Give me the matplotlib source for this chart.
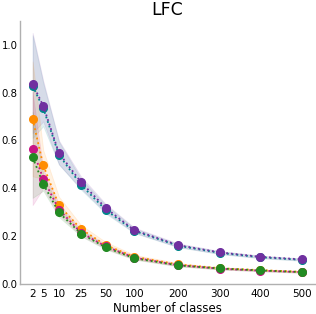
import numpy as np
import matplotlib
matplotlib.use("Agg")
import matplotlib.pyplot as plt

# ---- data ----
classes = [2, 5, 10, 25, 50, 100, 200, 300, 400, 500]
tick_labels = ["2", "5", "10", "25", "50", "100", "200", "300", "400", "500"]

teal_mean = [0.828, 0.735, 0.540, 0.415, 0.310, 0.222, 0.160, 0.130, 0.112, 0.101]
teal_lo = [0.61, 0.66, 0.50, 0.395, 0.295, 0.213, 0.154, 0.125, 0.108, 0.097]
teal_hi = [1.04, 0.84, 0.595, 0.44, 0.33, 0.233, 0.167, 0.136, 0.117, 0.105]

purple_mean = [0.836, 0.745, 0.547, 0.426, 0.318, 0.225, 0.1625, 0.132, 0.114, 0.103]
purple_lo = [0.63, 0.68, 0.50, 0.40, 0.30, 0.215, 0.155, 0.126, 0.109, 0.099]
purple_hi = [1.05, 0.85, 0.60, 0.45, 0.335, 0.236, 0.170, 0.138, 0.119, 0.107]

orange_mean = [0.690, 0.496, 0.329, 0.230, 0.1625, 0.114, 0.082, 0.066, 0.058, 0.051]
orange_lo = [0.45, 0.44, 0.30, 0.215, 0.150, 0.105, 0.076, 0.062, 0.055, 0.048]
orange_hi = [0.93, 0.56, 0.365, 0.247, 0.176, 0.122, 0.088, 0.070, 0.061, 0.054]

magenta_mean = [0.5625, 0.440, 0.311, 0.215, 0.157, 0.110, 0.079, 0.064, 0.056, 0.050]
magenta_lo = [0.33, 0.40, 0.29, 0.203, 0.148, 0.104, 0.075, 0.061, 0.053, 0.047]
magenta_hi = [0.80, 0.48, 0.335, 0.228, 0.166, 0.117, 0.084, 0.068, 0.059, 0.053]

green_mean = [0.530, 0.418, 0.299, 0.211, 0.153, 0.108, 0.078, 0.065, 0.057, 0.050]
green_lo = [0.36, 0.39, 0.28, 0.200, 0.145, 0.102, 0.074, 0.061, 0.054, 0.047]
green_hi = [0.72, 0.46, 0.32, 0.223, 0.162, 0.114, 0.082, 0.069, 0.060, 0.053]

series = [
    (teal_mean, teal_lo, teal_hi, "#00868b"),
    (purple_mean, purple_lo, purple_hi, "#7030a0"),
    (orange_mean, orange_lo, orange_hi, "#ff8c00"),
    (magenta_mean, magenta_lo, magenta_hi, "#c71585"),
    (green_mean, green_lo, green_hi, "#228b22"),
]

# ---- custom x scale (compressed at small class counts) ----
scale_x = [-2, 2, 5, 10, 25, 50, 100, 200, 300, 400, 500, 600]
scale_u = [18.6, 32.7, 43.3, 59, 81, 105.7, 134.3, 178, 220, 260, 301.7, 343.4]

def fwd(x):
    return np.interp(x, scale_x, scale_u)

def inv(u):
    return np.interp(u, scale_u, scale_x)

fig = plt.figure(figsize=(3.16, 3.14), dpi=100)
ax = fig.add_axes([0.062, 0.0955, 0.935, 0.838])
ax.set_xscale("function", functions=(fwd, inv))

for mean, lo, hi, col in series:
    ax.fill_between(classes, lo, hi, color=col, alpha=0.11, linewidth=0.6)
for mean, lo, hi, col in series:
    ax.plot(classes, mean, linestyle=":", color=col, linewidth=1.3,
            marker="o", markersize=5.5)

ax.set_xlim(-1.7, 532)
ax.set_ylim(0, 1.1)
ax.set_xticks(classes)
ax.set_xticklabels(tick_labels)
ax.set_yticks([0.0, 0.2, 0.4, 0.6, 0.8, 1.0])
ax.tick_params(axis="x", length=0, labelsize=7.5, pad=3.5)
ax.tick_params(axis="y", length=0, labelsize=7.3, pad=1.5)
ax.set_xlabel("Number of classes", fontsize=8.5, labelpad=2)
ax.set_title("LFC", fontsize=12.5, pad=4)
for s in ["top", "right"]:
    ax.spines[s].set_visible(False)
for s in ["left", "bottom"]:
    ax.spines[s].set_color("#b0b0b0")
    ax.spines[s].set_linewidth(1.0)

fig.savefig("out.png", dpi=100)
